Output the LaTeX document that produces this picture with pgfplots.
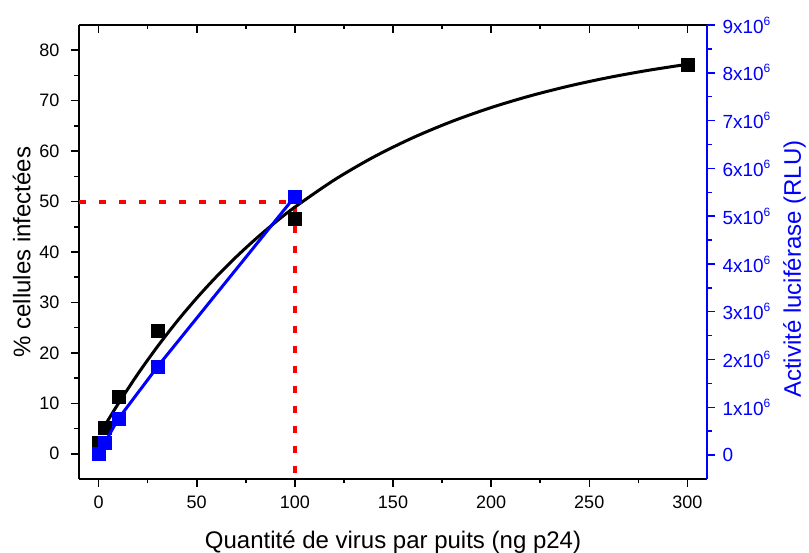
\documentclass[border=0pt]{standalone}
\usepackage{pgfplots}
\pgfplotsset{compat=1.18}
\usepackage{fontspec}
\setmainfont{Liberation Sans}
\newcommand{\sx}[1]{#1x10\raisebox{0.42em}{\fontsize{12}{12}\selectfont 6}}
\begin{document}
\begin{tikzpicture}[x=1pt,y=1pt]
\useasboundingbox (0,0) rectangle (809,553);
\pgfplotsset{
  base/.style={
    scale only axis, width=628pt, height=454pt,
    at={(79pt,74pt)}, anchor=south west,
    xmin=-10, xmax=310,
    /pgf/number format/assume math mode=true,
    tick label style={font=\fontsize{18}{18}\selectfont},
    label style={font=\fontsize{24}{28}\selectfont},
    major tick length=8pt, minor tick length=4.5pt,
    tick style={line width=1.5pt, black},
    axis line style={line width=1.8pt, -},
  }
}
% top axis (inward ticks, no labels)
\begin{axis}[base, ymin=-5, ymax=85, axis x line*=top, axis y line=none,
  tick align=inside, xtick={0,50,...,300}, minor x tick num=1, xticklabels={}]
\end{axis}
% main (left) axis
\begin{axis}[base, ymin=-5, ymax=85, axis x line*=bottom, axis y line*=left,
  tick align=outside, xtick={0,50,...,300}, minor x tick num=1,
  ytick={0,10,...,80}, minor y tick num=1,
  xticklabel style={yshift=-5pt},
  yticklabel style={xshift=-8pt},
  xlabel={Quantité de virus par puits (ng p24)},
  xlabel style={yshift=-16pt},
  ylabel={\% cellules infectées},
  ylabel style={yshift=2pt}]
\addplot[red, line width=4pt, dash pattern=on 7pt off 13pt] coordinates {(-10,50) (100,50) (100,-5)};
\addplot[black, line width=3pt, smooth] coordinates {
(1,4.17) (5,6.78) (10,9.92) (20,15.83) (30,21.26) (40,26.27) (50,30.87) (60,35.10)
(70,38.99) (80,42.57) (90,45.87) (100,48.90) (120,54.26) (140,58.80) (160,62.63)
(180,65.88) (200,68.63) (220,70.96) (240,72.93) (260,74.60) (280,76.01) (300,77.21)};
\addplot[only marks, mark=square*, mark size=6.5pt, black, mark options={line width=0.5pt, fill=black}]
coordinates {(0,2.2) (3,5.2) (10,11.3) (30,24.3) (100,46.6) (300,77.2)};
\end{axis}
% right axis (blue)
\begin{axis}[base, ymin=-500000, ymax=9000000, axis y line*=right, axis x line=none,
  tick align=outside, scaled y ticks=false,
  ytick={0,1000000,2000000,3000000,4000000,5000000,6000000,7000000,8000000,9000000},
  yticklabels={0,\sx{1},\sx{2},\sx{3},\sx{4},\sx{5},\sx{6},\sx{7},\sx{8},\sx{9}},
  minor y tick num=1,
  y axis line style={draw=blue},
  y tick style={draw=blue},
  y tick label style={text=blue, font=\fontsize{19}{19}\selectfont, xshift=4pt},
  ylabel={Activité luciférase (RLU)},
  ylabel style={text=blue, at={(axis description cs:1.121,0.4625)}, anchor=north, inner sep=0pt}]
\addplot[blue, line width=3pt] coordinates {(0,20000) (3,250000) (10,756000) (30,1850000) (100,5410000)};
\addplot[only marks, mark=square*, mark size=6.5pt, blue, mark options={line width=0.5pt, fill=blue}]
coordinates {(0,20000) (3,250000) (10,756000) (30,1850000) (100,5410000)};
\end{axis}
\end{tikzpicture}
\end{document}
